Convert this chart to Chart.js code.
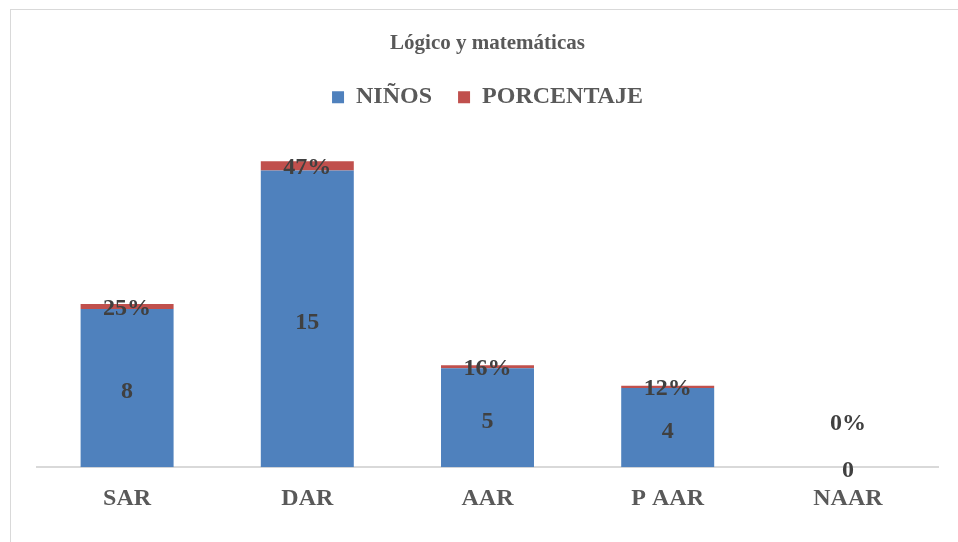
<!DOCTYPE html>
<html>
<head>
<meta charset="utf-8">
<script src="https://cdn.jsdelivr.net/npm/chart.js@4"></script>
<style>
  html, body { margin: 0; padding: 0; background: #fff; }
  #frame { position: absolute; left: 10px; top: 9px; width: 1000px; height: 600px;
           border-left: 1px solid #d9d9d9; border-top: 1px solid #d9d9d9; }
  #wrap { position: absolute; left: 0; top: 0; width: 958px; height: 542px; }
</style>
</head>
<body>
<div id="frame"></div>
<div id="wrap"><canvas id="chart"></canvas></div>
<script>
// datos
const categorias = ["SAR", "DAR", "AAR", "P AAR", "NAAR"];
const ninos = [8, 15, 5, 4, 0];
const porcentaje = [0.25, 0.47, 0.16, 0.12, 0];

const serif = '"Liberation Serif", "Times New Roman", serif';

// etiquetas dentro de las barras (no hay plugin datalabels)
const etiquetas = {
    id: 'etiquetas',
    afterDatasetsDraw(chart) {
        const ctx = chart.ctx;
        ctx.save();
        ctx.font = 'bold 24px ' + serif;
        ctx.fillStyle = '#404040';
        ctx.textAlign = 'center';
        ctx.textBaseline = 'middle';
        chart.data.datasets.forEach(function (ds, di) {
            const meta = chart.getDatasetMeta(di);
            meta.data.forEach(function (bar, i) {
                const v = ds.data[i];
                let y = (bar.y + bar.base) / 2 + 4;
                let txt = String(v);
                if (di == 1) {
                    txt = Math.round(v * 100) + '%';
                    y = (bar.y + bar.base) / 2 + 2;
                    if (v == 0) y = bar.base - 43;
                }
                ctx.fillText(txt, bar.x, y);
            });
        });
        ctx.restore();
    }
};

new Chart(document.getElementById('chart'), {
    type: 'bar',
    data: {
        labels: categorias,
        datasets: [
            { label: "NIÑOS", data: ninos, backgroundColor: '#4f81bd' },
            { label: "PORCENTAJE", data: porcentaje, backgroundColor: '#c0504d' }
        ]
    },
    options: {
        responsive: true,
        maintainAspectRatio: false,
        animation: false,
        datasets: { bar: { categoryPercentage: 1, barPercentage: 0.516 } },
        layout: { padding: { left: 37, right: 20, top: 21, bottom: 12 } },
        plugins: {
            title: {
                display: true,
                text: 'Lógico y matemáticas',
                color: '#595959',
                font: { family: serif, size: 21, weight: 'bold' },
                padding: { top: 10, bottom: 3 }
            },
            legend: {
                position: 'top',
                labels: {
                    color: '#595959',
                    font: { family: serif, size: 24, weight: 'bold' },
                    boxWidth: 12,
                    boxHeight: 12,
                    padding: 26
                }
            },
            tooltip: { enabled: false }
        },
        scales: {
            x: {
                stacked: true,
                grid: { display: false, drawTicks: false },
                border: { display: true, color: '#d9d9d9', width: 2 },
                ticks: { color: '#595959', padding: 17, font: { family: serif, size: 24, weight: 'bold' } }
            },
            y: {
                stacked: true,
                display: false,
                min: 0,
                max: 17.6
            }
        }
    },
    plugins: [etiquetas]
});
</script>
</body>
</html>
